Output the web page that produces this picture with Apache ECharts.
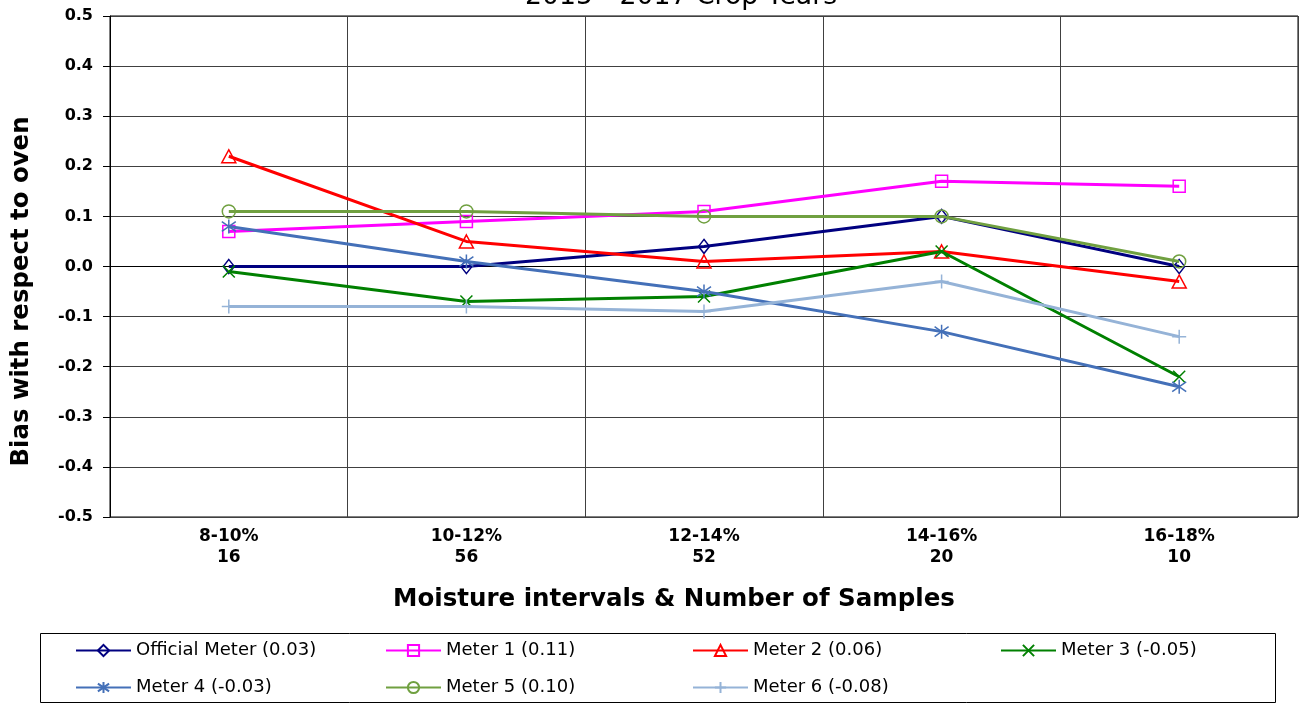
<!DOCTYPE html>
<html>
<head>
<meta charset="utf-8">
<script src="https://cdn.jsdelivr.net/npm/echarts@6/dist/echarts.min.js"></script>
<style>
html,body{margin:0;padding:0;background:#fff;}
#chart{width:1301px;height:704px;}
</style>
</head>
<body>
<div id="chart"></div>
<script>
const categories = ['8-10%\n16', '10-12%\n56', '12-14%\n52', '14-16%\n20', '16-18%\n10'];
const yTicks = [-0.5, -0.4, -0.3, -0.2, -0.1, 0.0, 0.1, 0.2, 0.3, 0.4, 0.5];

const officialMeter = [0.00, 0.00, 0.04, 0.10, 0.00];
const meter1 = [0.07, 0.09, 0.11, 0.17, 0.16];
const meter2 = [0.22, 0.05, 0.01, 0.03, -0.03];
const meter3 = [-0.01, -0.07, -0.06, 0.03, -0.22];
const meter4 = [0.08, 0.01, -0.05, -0.13, -0.24];
const meter5 = [0.11, 0.11, 0.10, 0.10, 0.01];
const meter6 = [-0.08, -0.08, -0.09, -0.03, -0.14];

const seriesNames = ['Official Meter (0.03)', 'Meter 1 (0.11)', 'Meter 2 (0.06)', 'Meter 3 (-0.05)',
  'Meter 4 (-0.03)', 'Meter 5 (0.10)', 'Meter 6 (-0.08)'];
const seriesData = [officialMeter, meter1, meter2, meter3, meter4, meter5, meter6];
const colors = ['#000080', '#FF00FF', '#FF0000', '#008000', '#4470B8', '#70A040', '#95B3D7'];
const symbols = [
  'diamond', 'rect', 'triangle',
  'path://M0 0L10 10M10 0L0 10',
  'path://M5 0L5 10M0 1.5L10 8.5M10 1.5L0 8.5',
  'circle',
  'path://M5 0L5 10M0 5L10 5'
];
const symbolSizes = [[11, 14], 12, [14, 13], 12, 14, 13, 14];

const chart = echarts.init(document.getElementById('chart'));

const series = seriesNames.map((name, i) => ({
  name: name,
  type: 'line',
  data: seriesData[i],
  symbol: symbols[i],
  symbolSize: symbolSizes[i],
  showAllSymbol: true,
  color: colors[i],
  lineStyle: { color: colors[i], width: 3 },
  itemStyle: { color: 'rgba(0,0,0,0)', borderColor: colors[i], borderWidth: 1.5 },
  emphasis: { disabled: true },
  z: 3 + i
}));

const legendCols = [
  { left: 75, data: [seriesNames[0], seriesNames[4]] },
  { left: 385, data: [seriesNames[1], seriesNames[5]] },
  { left: 692, data: [seriesNames[2], seriesNames[6]] },
  { left: 1000, data: [seriesNames[3]] }
];

const font = '"DejaVu Sans", "Liberation Sans", Arial, sans-serif';

chart.setOption({
  animation: false,
  title: {
    text: '2015 - 2017 Crop Years',
    left: 525,
    top: -16,
    padding: 0,
    textStyle: { fontFamily: font, fontSize: 26.7, fontWeight: 'normal', color: '#000' }
  },
  legend: legendCols.map(c => ({
    orient: 'vertical',
    left: c.left,
    top: 640,
    padding: 0,
    itemWidth: 55,
    itemHeight: 14,
    itemGap: 16,
    data: c.data,
    textStyle: { fontFamily: font, fontSize: 18, color: '#000', lineHeight: 21 },
    selectedMode: false
  })),
  graphic: [{
    type: 'rect',
    shape: { x: 40.5, y: 633.5, width: 1235, height: 69 },
    style: { fill: 'none', stroke: '#000', lineWidth: 1 },
    silent: true
  }],
  grid: {
    left: 110,
    right: 3,
    top: 16,
    bottom: 187,
    show: true,
    borderColor: '#000',
    borderWidth: 1,
    containLabel: false
  },
  xAxis: {
    type: 'category',
    data: categories,
    boundaryGap: true,
    name: 'Moisture intervals & Number of Samples',
    nameLocation: 'middle',
    nameGap: 70,
    nameTextStyle: {
      fontFamily: font, fontSize: 24.5, fontWeight: 'bold', color: '#000',
      padding: [0, 60, 0, 0]
    },
    axisLine: { show: true, lineStyle: { color: '#000', width: 1 } },
    axisTick: { show: false },
    axisLabel: {
      interval: 0,
      margin: 9,
      fontFamily: font, fontSize: 17, fontWeight: 'bold', color: '#000', lineHeight: 21
    },
    splitLine: { show: true, interval: 0, lineStyle: { color: '#404040', width: 1 } }
  },
  yAxis: {
    type: 'value',
    min: yTicks[0],
    max: yTicks[yTicks.length - 1],
    interval: 0.1,
    name: 'Bias with respect to oven',
    nameLocation: 'middle',
    nameGap: 76,
    nameRotate: 90,
    nameTextStyle: {
      fontFamily: font, fontSize: 24.4, fontWeight: 'bold', color: '#000',
      padding: [0, 50, 0, 0]
    },
    axisLine: { show: true, lineStyle: { color: '#000', width: 1 } },
    axisTick: { show: true, length: 7, lineStyle: { color: '#000' } },
    axisLabel: {
      margin: 17,
      fontFamily: font, fontSize: 16, fontWeight: 'bold', color: '#000',
      formatter: v => (Math.abs(v) < 1e-9 ? 0 : v).toFixed(1)
    },
    splitLine: { show: true, lineStyle: { color: '#404040', width: 1 } }
  },
  series: series
});
</script>
</body>
</html>
